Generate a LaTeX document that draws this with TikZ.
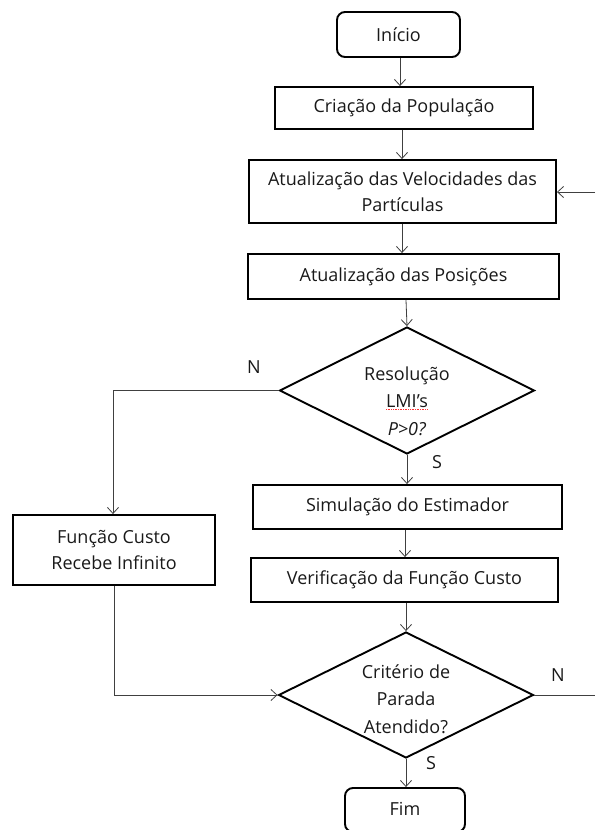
\documentclass[tikz,border=0pt]{standalone}
\usepackage{fontspec}
\setmainfont{Open Sans}
\usetikzlibrary{shapes.geometric,arrows.meta}
\begin{document}
\begin{tikzpicture}[x=1pt,y=-1pt,
  font=\fontsize{18}{25.5}\selectfont,
  txt/.style={text=black!90, align=center, inner sep=0pt, font=\fontsize{18}{27.5}\selectfont},
  boxnode/.style={draw=black, line width=1.9pt, rectangle, inner sep=0pt, text=black!90, align=center},
  termnode/.style={boxnode, rounded corners=8pt},
  decnode/.style={draw=black, line width=1.9pt, diamond, inner sep=0pt},
  arr/.style={draw=black!75, line width=0.8pt, -{Straight Barb[length=6pt,width=11pt,line width=0.8pt]}},
  link/.style={draw=black!75, line width=0.8pt},
  lbl/.style={text=black!90, inner sep=0pt}]
\useasboundingbox (0,0) rectangle (595,830);

% process steps
\node[termnode, minimum width=123pt, minimum height=45pt] (inicio) at (398.5,34.5) {Início};
\node[boxnode, minimum width=258pt, minimum height=42pt] (criacao) at (404,108) {Criação da População};
\node[boxnode, minimum width=307pt, minimum height=63pt] (vel) at (402.5,191.5) {Atualização das Velocidades das\\Partículas};
\node[boxnode, minimum width=311pt, minimum height=45pt] (pos) at (403.5,276.5) {Atualização das Posições};

% first decision
\node[decnode, minimum width=255pt, minimum height=127pt] (d1) at (407,390.5) {};
\node[txt] (d1t) at (407,401) {Resolução\\LMI’s\\\textit{P>0?}};
\coordinate (lmiA) at (386,409.5);
\coordinate (lmiB) at (428,409.5);
\draw[red!80, densely dotted, line width=0.7pt] (lmiA) -- (lmiB);

\node[boxnode, minimum width=309pt, minimum height=44pt] (sim) at (407.5,507) {Simulação do Estimador};
\node[boxnode, minimum width=307pt, minimum height=44pt] (ver) at (404.5,580) {Verificação da Função Custo};
\node[boxnode, minimum width=202pt, minimum height=70pt] (func) at (114,550) {Função Custo\\Recebe Infinito};

% second decision
\node[decnode, minimum width=255pt, minimum height=126pt] (d2) at (406,695) {};
\node[txt] (d2t) at (406,699) {Critério de\\Parada\\Atendido?};

\node[termnode, minimum width=120pt, minimum height=44pt] (fim) at (405,810) {};
\node[txt] (fimt) at (405,809) {Fim};

% branch labels
\node[lbl] (n1) at (254,367) {N};
\node[lbl] (s1) at (437,462) {S};
\node[lbl] (n2) at (558,675) {N};
\node[lbl] (s2) at (431,763) {S};

% connectors
\coordinate (loopin) at (595,192);
\coordinate (loopout) at (595,695);
\draw[arr] (inicio.south -| 400,0) -- (criacao.north -| 400,0);
\draw[arr] (criacao.south -| 402,0) -- (vel.north -| 402,0);
\draw[arr] (vel.south -| 402,0) -- (pos.north -| 402,0);
\draw[arr] (pos.south -| 406,0) -- (d1.north);
\draw[arr] (d1.south) -- (sim.north -| d1.south);
\draw[arr] (sim.south -| 405,0) -- (ver.north -| 405,0);
\draw[arr] (ver.south -| d2.north) -- (d2.north);
\draw[arr] (d2.south) -- (fim.north -| d2.south);
\draw[arr] (d1.west) -| (func.north -| 113,0);
\draw[arr] (func.south -| 114,0) |- (d2.west);
\draw[link] (d2.east) -- (loopout);
\draw[arr] (loopin) -- (vel.east |- loopin);
\end{tikzpicture}
\end{document}
